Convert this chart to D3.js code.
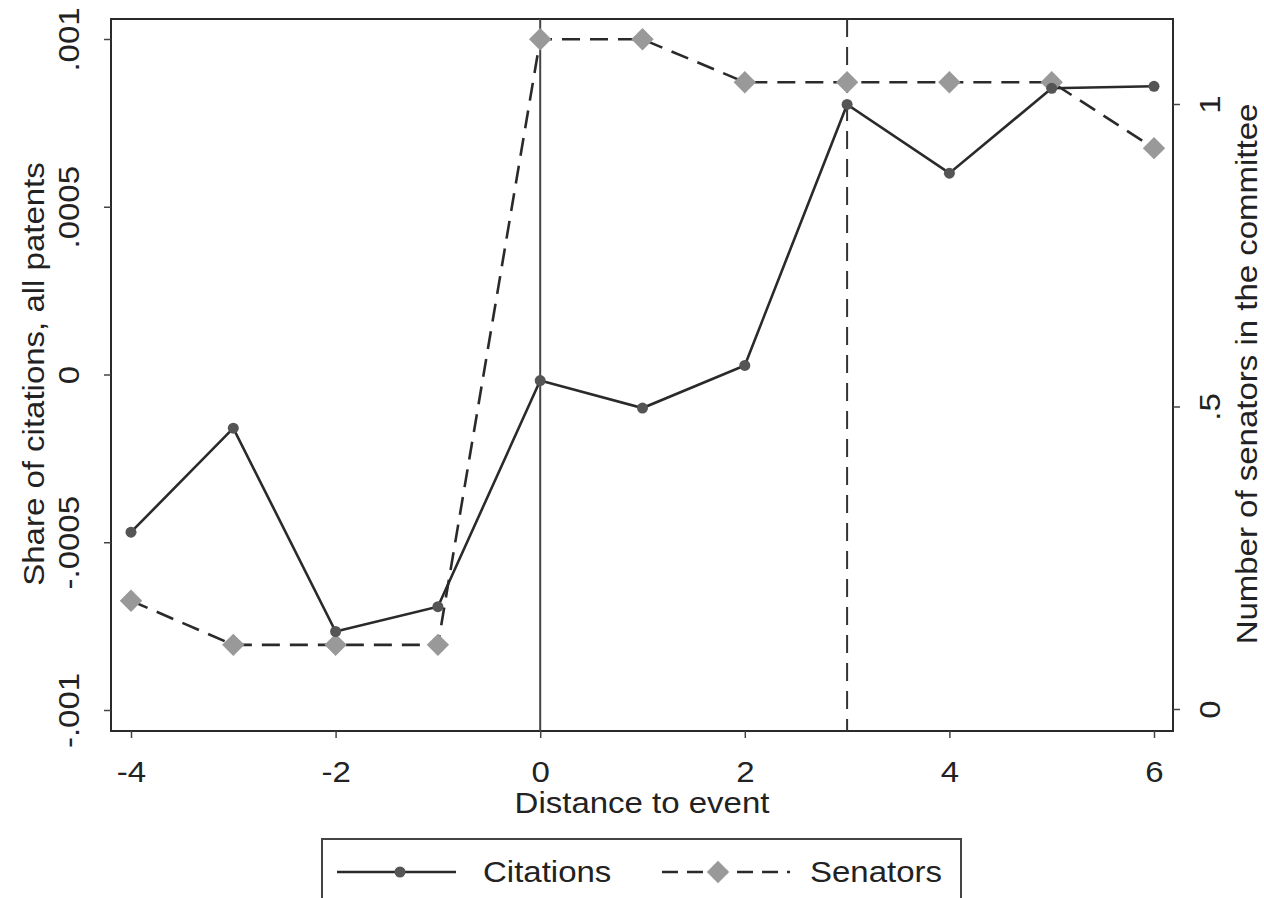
<!DOCTYPE html>
<html><head><meta charset="utf-8">
<script src="https://cdn.jsdelivr.net/npm/d3@7"></script>
<style>body{margin:0;background:#fff}svg{display:block}text{font-family:"Liberation Sans",Arial,sans-serif;fill:#222}</style>
</head><body>
<script>
const distance = [-4,-3,-2,-1,0,1,2,3,4,5,6];
const citations = [-0.00047,-0.00016,-0.000766,-0.000692,-0.000018,-0.0001,0.000027,0.000805,0.0006,0.000853,0.000859];
const senators = [0.179,0.106,0.106,0.106,1.107,1.107,1.036,1.036,1.036,1.036,0.927];
const xTicks = [-4,-2,0,2,4,6];
const xTickLabels = ["-4","-2","0","2","4","6"];
const leftTicks = [-0.001,-0.0005,0,0.0005,0.001];
const leftTickLabels = ["-.001","-.0005","0",".0005",".001"];
const rightTicks = [0,0.5,1];
const rightTickLabels = ["0",".5","1"];
const eventLines = [0,3];
const seriesNames = ["Citations","Senators"];

const W=1264,H=898, FS=33, SQ=0.87;
const svg=d3.select("body").append("svg").attr("width",W).attr("height",H);
const L=111,R=1173,T=19,B=731;
const x=d3.scaleLinear().domain([-4,6]).range([131,1154]);
const yL=d3.scaleLinear().domain([-0.001,0.001]).range([710,39]);
const yR=d3.scaleLinear().domain([0,1]).range([709,104]);

function txt(g,tx,ty,rot,s,anchor){
  return g.append("text").attr("transform",`translate(${tx},${ty}) rotate(${rot}) scale(1,${SQ})`)
    .attr("text-anchor",anchor||"middle").attr("font-size",FS).text(s);
}

// plot frame
svg.append("rect").attr("x",L).attr("y",T).attr("width",R-L).attr("height",B-T).attr("fill","#fff").attr("stroke","#2a2a2a").attr("stroke-width",2);

// event lines
svg.append("line").attr("x1",x(eventLines[0])).attr("x2",x(eventLines[0])).attr("y1",T).attr("y2",B).attr("stroke","#444").attr("stroke-width",2);
svg.append("line").attr("x1",x(eventLines[1])).attr("x2",x(eventLines[1])).attr("y1",T).attr("y2",B).attr("stroke","#333").attr("stroke-width",2).attr("stroke-dasharray","18,10");

// axes
const axB=svg.append("g").attr("transform",`translate(0,${B})`).call(d3.axisBottom(x).tickValues(xTicks).tickSize(7).tickFormat((d,i)=>xTickLabels[i]));
axB.select(".domain").remove();
axB.selectAll("line").attr("stroke","#444").attr("stroke-width",1.5);
axB.selectAll("text").attr("font-size",FS).attr("y",null).attr("dy",null).attr("transform",`translate(0,51) scale(1,${SQ})`).style("fill","#222");

const axL=svg.append("g").attr("transform",`translate(${L},0)`).call(d3.axisLeft(yL).tickValues(leftTicks).tickSize(7).tickFormat((d,i)=>leftTickLabels[i]));
axL.select(".domain").remove();
axL.selectAll("line").attr("stroke","#444").attr("stroke-width",1.5);
axL.selectAll("text").attr("font-size",FS).attr("x",null).attr("dy",null)
  .attr("text-anchor","middle").attr("transform",`translate(-32,0) rotate(-90) scale(1,${SQ})`).style("fill","#222");

const axR=svg.append("g").attr("transform",`translate(${R},0)`).call(d3.axisRight(yR).tickValues(rightTicks).tickSize(7).tickFormat((d,i)=>rightTickLabels[i]));
axR.select(".domain").remove();
axR.selectAll("line").attr("stroke","#444").attr("stroke-width",1.5);
axR.selectAll("text").attr("font-size",FS).attr("x",null).attr("dy",null)
  .attr("text-anchor","middle").attr("transform",`translate(47,0) rotate(-90) scale(1,${SQ})`).style("fill","#222");

// titles
txt(svg,642,813,0,"Distance to event");
txt(svg,44,374,-90,"Share of citations, all patents");
txt(svg,1257,374,-90,"Number of senators in the committee");

// series
const lineC=d3.line().x((d,i)=>x(distance[i])).y(d=>yL(d));
const lineS=d3.line().x((d,i)=>x(distance[i])).y(d=>yR(d));
svg.append("path").datum(senators).attr("d",lineS).attr("fill","none").attr("stroke","#2a2a2a").attr("stroke-width",2.6).attr("stroke-dasharray","18,10");
svg.append("path").datum(citations).attr("d",lineC).attr("fill","none").attr("stroke","#2a2a2a").attr("stroke-width",2.6);
const dia=d3.symbol().type(d3.symbolSquare).size(250);
svg.selectAll(".sd").data(senators).join("path").attr("class","sd")
  .attr("d",dia).attr("transform",(d,i)=>`translate(${x(distance[i])},${yR(d)}) rotate(45)`)
  .attr("fill","#999");
svg.selectAll(".cd").data(citations).join("circle").attr("class","cd")
  .attr("cx",(d,i)=>x(distance[i])).attr("cy",d=>yL(d)).attr("r",5.5).attr("fill","#555");

// legend
const lg=svg.append("g");
lg.append("rect").attr("x",322).attr("y",839).attr("width",639).attr("height",62).attr("fill","#fff").attr("stroke","#444").attr("stroke-width",2);
lg.append("line").attr("x1",337).attr("x2",456).attr("y1",872).attr("y2",872).attr("stroke","#2a2a2a").attr("stroke-width",2.6);
lg.append("circle").attr("cx",400).attr("cy",872).attr("r",5.5).attr("fill","#555");
txt(lg,483,882,0,seriesNames[0],"start");
lg.append("line").attr("x1",662).attr("x2",790).attr("y1",872).attr("y2",872).attr("stroke","#2a2a2a").attr("stroke-width",2.6).attr("stroke-dasharray","16,9");
lg.append("path").attr("d",dia).attr("transform","translate(718,872) rotate(45)").attr("fill","#999");
txt(lg,810,882,0,seriesNames[1],"start");
</script>
</body></html>
